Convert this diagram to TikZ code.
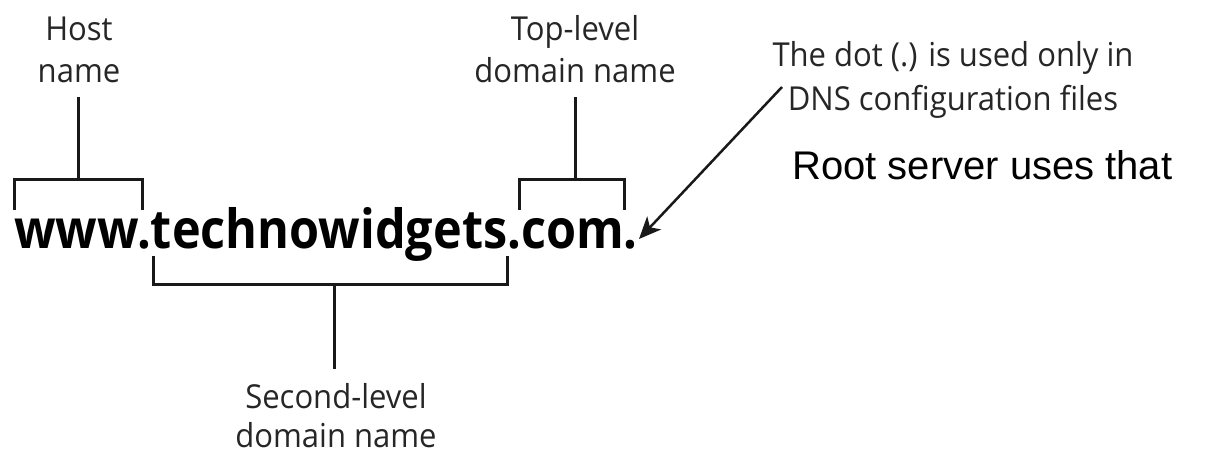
\documentclass[tikz,border=0pt]{standalone}
\usepackage{fontspec}
\setmainfont{Open Sans}
\newfontfamily\lblfont[FakeStretch=0.94]{Open Sans}
\newfontfamily\urlfont[FakeStretch=0.90]{Open Sans}
\newfontfamily\rootfont{Liberation Sans}
\usetikzlibrary{arrows.meta}
\tikzset{
  lbl/.style={font=\lblfont\fontsize{33}{40}\selectfont, inner sep=0pt, anchor=base, text=black!85},
  brk/.style={line width=3pt, line join=miter, black!90},
  ptr/.style={line width=2.5pt, black!90, -{Stealth[length=22pt,width=19pt,inset=6pt]}}
}
\begin{document}
\begin{tikzpicture}[x=1pt,y=-1pt]
\useasboundingbox (0,0) rectangle (1211,454);
% labels
\node[lbl] (hostA) at (79,41) {Host};
\node[lbl] (hostB) at (79,83) {name};
\node[lbl] (tldA) at (575,41) {Top-level};
\node[lbl] (tldB) at (575,83) {domain name};
\node[lbl] (sldA) at (336,409) {Second-level};
\node[lbl] (sldB) at (336,447) {domain name};
\node[lbl] (dotA) at (953,67) {The dot (.) is used only in};
\node[lbl] (dotB) at (953,111) {DNS configuration files};
\node[font=\rootfont\fontsize{40}{48}\selectfont, inner sep=0pt, anchor=base west] (root) at (792,180) {Root server uses that};
% url
\node[font=\urlfont\bfseries\fontsize{54}{60}\selectfont, inner sep=0pt, anchor=base west] (url) at (14,249) {www.technowidgets.com.};
% host bracket
\coordinate (hS) at (78,97);
\coordinate (hL) at (14,210);
\coordinate (hR) at (142,210);
\draw[brk] (hS) -- ++(0,83);
\draw[brk] (hL) -- ++(0,-30) -| (hR);
% tld bracket
\coordinate (tS) at (575,97);
\coordinate (tL) at (519,210);
\coordinate (tR) at (624,210);
\draw[brk] (tS) -- ++(0,83);
\draw[brk] (tL) -- ++(0,-30) -| (tR);
% sld bracket
\coordinate (sS) at (334,369);
\coordinate (sL) at (153,256);
\coordinate (sR) at (507,256);
\draw[brk] (sS) -- ++(0,-84);
\draw[brk] (sL) -- ++(0,29) -| (sR);
% arrow
\coordinate (aS) at (782,87);
\coordinate (aE) at (639,239);
\draw[ptr] (aS) -- (aE);
\end{tikzpicture}
\end{document}
